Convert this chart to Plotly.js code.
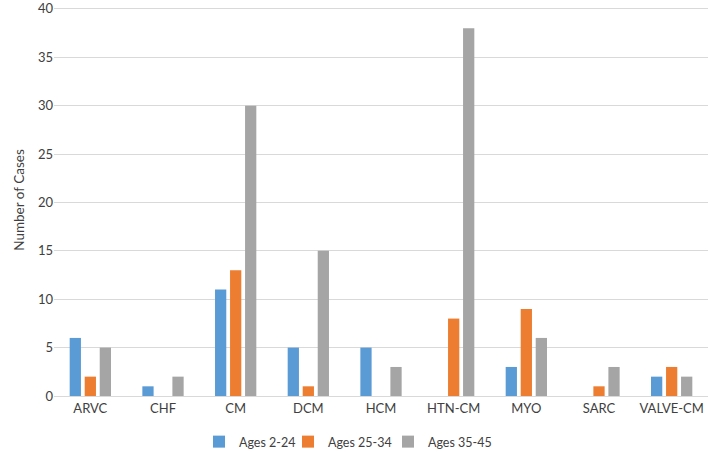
<!DOCTYPE html>
<html>
<head>
<meta charset="utf-8">
<script src="https://cdn.plot.ly/plotly-3.0.1.min.js"></script>
<style>html,body{margin:0;padding:0;background:#fff;}#chart{width:709px;height:452px;}</style>
</head>
<body>
<div id="chart"></div>
<script>
const categories = ["ARVC", "CHF", "CM", "DCM", "HCM", "HTN-CM", "MYO", "SARC", "VALVE-CM"];
const seriesNames = ["Ages 2-24", "Ages 25-34", "Ages 35-45"];
const ages2_24 = [6, 1, 11, 5, 5, 0, 3, 0, 2];
const ages25_34 = [2, 0, 13, 1, 0, 8, 9, 1, 3];
const ages35_45 = [5, 2, 30, 15, 3, 38, 6, 3, 2];
const yTicks = [0, 5, 10, 15, 20, 25, 30, 35, 40];

const colors = ["#5B9BD5", "#ED7D31", "#A5A5A5"];
const values = [ages2_24, ages25_34, ages35_45];
const legendIds = ["legend", "legend2", "legend3"];
const legendTextX = [241, 330, 430];
const traces = values.map((v, i) => ({
  type: "bar", x: categories, y: v, name: seriesNames[i],
  marker: {color: colors[i]}, hoverinfo: "skip", legend: legendIds[i]
}));

const legendFont = {family: "Lato, 'Open Sans', sans-serif", size: 12.5, color: "#404040"};
const layout = {
  width: 709, height: 452,
  margin: {l: 54, r: 1, t: 4, b: 56, autoexpand: false},
  paper_bgcolor: "#fff", plot_bgcolor: "#fff",
  font: {family: "Lato, 'Open Sans', sans-serif", size: 13, color: "#404040"},
  barmode: "group", bargap: 0.38, bargroupgap: 0.25,
  showlegend: true,
  xaxis: {type: "category", showgrid: false, showline: true, linecolor: "#D9D9D9", linewidth: 1,
          ticks: "", tickfont: {size: 13, color: "#404040"}, zeroline: false, automargin: false},
  yaxis: {range: [0, 40.5], tickvals: yTicks, ticktext: yTicks.map(String), showgrid: true,
          gridcolor: "#D9D9D9", gridwidth: 1, zeroline: false, showline: false, ticks: "",
          tickfont: {size: 13, color: "#404040"}, automargin: false, ticklabeloverflow: "allow",
          title: {text: "Number of Cases", font: {size: 13.5, color: "#404040"}, standoff: 10}}
};
legendIds.forEach((id, i) => {
  layout[id] = {orientation: "h", xref: "container", yref: "container",
                x: (legendTextX[i] - 42) / 709, xanchor: "left", y: 1 - 427 / 452, yanchor: "top",
                font: legendFont, itemwidth: 30, bgcolor: "rgba(0,0,0,0)"};
});
Plotly.newPlot("chart", traces, layout, {displayModeBar: false, staticPlot: true});
</script>
</body>
</html>
